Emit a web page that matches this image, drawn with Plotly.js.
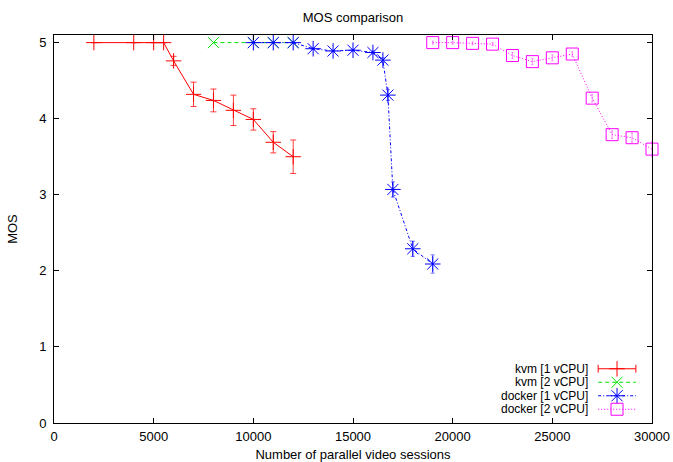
<!DOCTYPE html>
<html>
<head>
<meta charset="utf-8">
<script src="https://cdn.plot.ly/plotly-3.0.1.min.js"></script>
<style>html,body{margin:0;padding:0;background:#fff;}#chart{width:673px;height:462px;}</style>
</head>
<body>
<div id="chart"></div>
<script>
// ---- data ----
const kvm1X = [2000, 4000, 5000, 5500, 6000, 7000, 8000, 9000, 10000, 11000, 12000];
const kvm1Y = [5, 5, 5, 5, 4.76, 4.32, 4.24, 4.11, 3.99, 3.69, 3.50];
const kvm1Err = [0, 0, 0, 0, 0.06, 0.16, 0.15, 0.20, 0.14, 0.14, 0.22];

const kvm2X = [8000, 10000, 11000, 12000];
const kvm2Y = [5, 5, 5, 5];

const docker1X = [10000, 11000, 12000, 13000, 14000, 15000, 16000, 16500, 16750, 17000, 18000, 19000];
const docker1Y = [5, 5, 5, 4.92, 4.89, 4.90, 4.87, 4.77, 4.31, 3.07, 2.29, 2.09];
const docker1Err = [0, 0, 0, 0.01, 0.01, 0.01, 0.02, 0.03, 0.07, 0.10, 0.10, 0.12];

const docker2X = [19000, 20000, 21000, 22000, 23000, 24000, 25000, 26000, 27000, 28000, 29000, 30000];
const docker2Y = [5, 5, 4.99, 4.98, 4.83, 4.75, 4.80, 4.85, 4.27, 3.79, 3.75, 3.60];
const docker2Err = [0.02, 0.02, 0.02, 0.02, 0.04, 0.04, 0.04, 0.03, 0.05, 0.05, 0.06, 0.10];

const seriesNames = ['kvm [1 vCPU]', 'kvm [2 vCPU]', 'docker [1 vCPU]', 'docker [2 vCPU]'];
const xTicks = [0, 5000, 10000, 15000, 20000, 25000, 30000];
const yTicks = [0, 1, 2, 3, 4, 5];

// ---- styling ----
const colors = ['#ff0000', '#00e000', '#0000ff', '#ff00ff'];
const errColors = ['rgba(255,0,0,0.75)', '#00e000', 'rgba(0,0,255,0.55)', 'rgba(255,0,255,0.45)'];
const dashes = ['solid', '4px,3px', '3px,2px,1px,2px', '1px,2px'];
const symbols = ['cross-thin-open', 'x-thin-open', 'asterisk-open', 'square-open'];
const sizes = [11, 11, 13, 12];
const errWidth = [3, 3, 2, 1];
const FONT = 'Liberation Sans, Arial, Helvetica, sans-serif';
const FS = 13;

function errArr(a) { return a.map(v => v > 0 ? v : null); }

function mk(i, x, y, err) {
  const t = {
    type: 'scatter', mode: 'lines+markers', x: x, y: y, name: seriesNames[i],
    showlegend: false, cliponaxis: false,
    line: {color: colors[i], width: 1, dash: dashes[i]},
    marker: {symbol: symbols[i], size: sizes[i], color: colors[i], line: {color: colors[i], width: 1}}
  };
  if (err) t.error_y = {type: 'data', array: errArr(err), visible: true, color: errColors[i], thickness: 1, width: errWidth[i]};
  return t;
}

const traces = [
  mk(0, kvm1X, kvm1Y, kvm1Err),
  mk(1, kvm2X, kvm2Y, null),
  mk(2, docker1X, docker1Y, docker1Err),
  mk(3, docker2X, docker2Y, docker2Err)
];

// ---- custom gnuplot-style key (text right-aligned, sample to the right) ----
const keyRows = [0.1398, 0.1050, 0.0702, 0.0354];
const keyTextX = 0.895, keyL0 = 0.910, keyL1 = 0.973, keyMid = 0.9415;
const shapes = [], annotations = [];
keyRows.forEach((ky, i) => {
  annotations.push({xref: 'paper', yref: 'paper', x: keyTextX, y: ky, xanchor: 'right', yanchor: 'middle',
    text: seriesNames[i], showarrow: false, borderpad: 0, font: {family: FONT, size: 12, color: '#000'}});
  shapes.push({type: 'line', xref: 'paper', yref: 'paper', x0: keyL0, x1: keyL1, y0: ky, y1: ky,
    line: {color: colors[i], width: 1, dash: dashes[i]}});
  traces.push({type: 'scatter', mode: 'markers', xaxis: 'x2', yaxis: 'y2', x: [keyMid], y: [ky],
    showlegend: false, hoverinfo: 'skip', cliponaxis: false,
    marker: {symbol: symbols[i], size: sizes[i], color: colors[i], line: {color: colors[i], width: 1}}});
});
// end caps for the error-bar key sample
[keyL0, keyL1].forEach(xc => shapes.push({type: 'line', xref: 'paper', yref: 'paper', x0: xc, x1: xc,
  y0: keyRows[0] - 0.01, y1: keyRows[0] + 0.01, line: {color: colors[0], width: 1}}));

const axisCommon = {
  showline: true, linecolor: '#000', linewidth: 1, mirror: 'ticks',
  ticks: 'inside', ticklen: 5, tickcolor: '#000', tickwidth: 1,
  showgrid: false, zeroline: false,
  tickfont: {family: FONT, size: FS, color: '#000'}
};

const layout = {
  width: 673, height: 462,
  margin: {l: 54, r: 21, t: 35, b: 39},
  paper_bgcolor: '#fff', plot_bgcolor: '#fff',
  title: {text: 'MOS comparison', font: {family: FONT, size: FS, color: '#000'},
    x: 0.5, xref: 'paper', y: 0.963, yref: 'container', yanchor: 'middle'},
  xaxis: Object.assign({}, axisCommon, {range: [0, 30000], tickvals: xTicks, ticktext: xTicks.map(String),
    ticklabelstandoff: 1,
    title: {text: 'Number of parallel video sessions', font: {family: FONT, size: FS, color: '#000'}, standoff: 14}}),
  yaxis: Object.assign({}, axisCommon, {range: [0, 5.1], tickvals: yTicks, ticktext: yTicks.map(String),
    ticklabelstandoff: 4,
    title: {text: 'MOS', font: {family: FONT, size: FS, color: '#000'}, standoff: 18}}),
  xaxis2: {overlaying: 'x', range: [0, 1], visible: false, fixedrange: true},
  yaxis2: {overlaying: 'y', range: [0, 1], visible: false, fixedrange: true},
  shapes: shapes, annotations: annotations,
  showlegend: false
};

Plotly.newPlot('chart', traces, layout, {staticPlot: true, displayModeBar: false});
</script>
</body>
</html>
